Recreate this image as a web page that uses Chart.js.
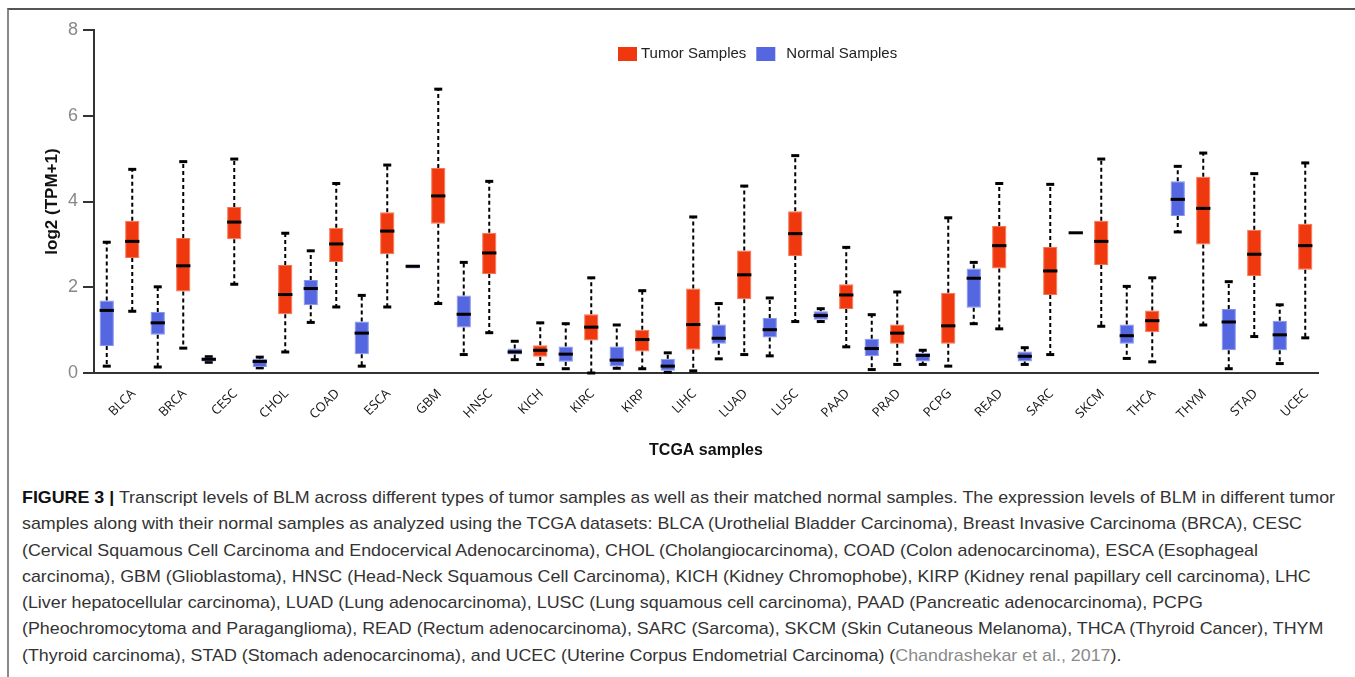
<!DOCTYPE html>
<html>
<head>
<meta charset="utf-8">
<script src="https://cdn.jsdelivr.net/npm/chart.js@4.4.0/dist/chart.umd.min.js"></script>
<style>
  body { margin: 0; background: #fff; width: 1355px; height: 677px; overflow: hidden; position: relative; }
  #frame { position: absolute; left: 7px; top: 8px; width: 1400px; height: 720px; border-top: 2px solid #555; border-left: 2px solid #888; }
  #wrap { position: absolute; left: 0; top: 0; width: 1355px; height: 470px; }
  #caption { position: absolute; left: 22px; top: 485px; font-family: "Liberation Sans Narrow", "Liberation Sans", Arial, sans-serif;
             font-size: 17px; line-height: 26.3px; color: #333; }
  #caption div { white-space: nowrap; transform-origin: 0 50%; }
  #caption b { color: #111; }
  #caption .ref { color: #8a8a8a; }
</style>
</head>
<body>
<div id="frame"></div>
<div id="wrap"><canvas id="chart"></canvas></div>
<div id="caption">
  <div><b>FIGURE 3 |</b> Transcript levels of BLM across different types of tumor samples as well as their matched normal samples. The expression levels of BLM in different tumor</div>
  <div>samples along with their normal samples as analyzed using the TCGA datasets: BLCA (Urothelial Bladder Carcinoma), Breast Invasive Carcinoma (BRCA), CESC</div>
  <div>(Cervical Squamous Cell Carcinoma and Endocervical Adenocarcinoma), CHOL (Cholangiocarcinoma), COAD (Colon adenocarcinoma), ESCA (Esophageal</div>
  <div>carcinoma), GBM (Glioblastoma), HNSC (Head-Neck Squamous Cell Carcinoma), KICH (Kidney Chromophobe), KIRP (Kidney renal papillary cell carcinoma), LHC</div>
  <div>(Liver hepatocellular carcinoma), LUAD (Lung adenocarcinoma), LUSC (Lung squamous cell carcinoma), PAAD (Pancreatic adenocarcinoma), PCPG</div>
  <div>(Pheochromocytoma and Paraganglioma), READ (Rectum adenocarcinoma), SARC (Sarcoma), SKCM (Skin Cutaneous Melanoma), THCA (Thyroid Cancer), THYM</div>
  <div>(Thyroid carcinoma), STAD (Stomach adenocarcinoma), and UCEC (Uterine Corpus Endometrial Carcinoma) (<span class="ref">Chandrashekar et al., 2017</span>).</div>
</div>
<script>
// categories and box statistics
const categories = ['BLCA','BRCA','CESC','CHOL','COAD','ESCA','GBM','HNSC','KICH','KIRC','KIRP','LIHC',
                    'LUAD','LUSC','PAAD','PRAD','PCPG','READ','SARC','SKCM','THCA','THYM','STAD','UCEC'];

const normalMin    = [0.16,0.14,0.25,0.12,1.18,0.16,2.44,0.43,0.31,0.10,0.11,0.02,0.33,0.40,1.20,0.08,0.20,1.15,0.20,3.27,0.34,3.29,0.10,0.22];
const normalQ1     = [0.63,0.89,0.27,0.14,1.58,0.44,2.44,1.06,0.43,0.26,0.15,0.05,0.68,0.83,1.24,0.39,0.27,1.52,0.27,3.27,0.68,3.66,0.53,0.53];
const normalMedian = [1.46,1.17,0.32,0.27,1.97,0.93,2.49,1.37,0.49,0.44,0.30,0.16,0.81,1.01,1.34,0.57,0.41,2.21,0.39,3.27,0.87,4.05,1.19,0.89];
const normalQ3     = [1.69,1.42,0.36,0.33,2.17,1.20,2.52,1.81,0.57,0.62,0.62,0.33,1.13,1.28,1.44,0.80,0.47,2.44,0.50,3.27,1.13,4.47,1.49,1.22];
const normalMax    = [3.05,2.01,0.38,0.37,2.85,1.81,2.52,2.58,0.74,1.15,1.12,0.47,1.62,1.75,1.50,1.36,0.53,2.58,0.59,3.27,2.02,4.82,2.13,1.59];

const tumorMin     = [1.44,0.58,2.07,0.49,1.54,1.54,1.62,0.94,0.20,0.00,0.10,0.05,0.43,1.20,0.61,0.20,0.16,1.03,0.43,1.09,0.26,1.12,0.85,0.82];
const tumorQ1      = [2.68,1.90,3.12,1.37,2.59,2.77,3.48,2.31,0.38,0.76,0.50,0.54,1.72,2.73,1.49,0.68,0.68,2.44,1.82,2.52,0.95,3.00,2.26,2.41];
const tumorMedian  = [3.07,2.50,3.52,1.83,3.01,3.31,4.13,2.80,0.53,1.07,0.78,1.13,2.29,3.25,1.82,0.93,1.10,2.97,2.38,3.07,1.22,3.84,2.77,2.97];
const tumorQ3      = [3.55,3.15,3.87,2.52,3.39,3.75,4.78,3.27,0.65,1.37,1.01,1.97,2.86,3.77,2.07,1.13,1.87,3.43,2.94,3.55,1.46,4.58,3.34,3.48];
const tumorMax     = [4.75,4.93,4.99,3.26,4.42,4.85,6.62,4.47,1.17,2.22,1.92,3.64,4.36,5.07,2.93,1.89,3.62,4.42,4.40,4.99,2.22,5.13,4.65,4.90];

const yTicks = [0, 2, 4, 6, 8];

const RED = '#f0380f';
const BLUE = '#5467e0';

// whiskers go under the boxes, medians on top
const boxWhiskers = {
  id: 'boxWhiskers',
  beforeDatasetsDraw(chart) {
    const ctx = chart.ctx, y = chart.scales.y;
    chart.data.datasets.forEach((ds, di) => {
      chart.getDatasetMeta(di).data.forEach((el, i) => {
        const lo = ds.stats.min[i], hi = ds.stats.max[i];
        const q1 = ds.data[i][0], q3 = ds.data[i][1];
        ctx.save();
        ctx.strokeStyle = '#000';
        ctx.lineWidth = 2;
        if (hi > q3) {
          ctx.setLineDash([4, 3]);
          ctx.beginPath(); ctx.moveTo(el.x, y.getPixelForValue(q3)); ctx.lineTo(el.x, y.getPixelForValue(hi)); ctx.stroke();
          ctx.setLineDash([]); ctx.lineWidth = 3;
          ctx.beginPath(); ctx.moveTo(el.x - 4, y.getPixelForValue(hi)); ctx.lineTo(el.x + 4, y.getPixelForValue(hi)); ctx.stroke();
        }
        ctx.lineWidth = 2;
        if (lo < q1) {
          ctx.setLineDash([4, 3]);
          ctx.beginPath(); ctx.moveTo(el.x, y.getPixelForValue(q1)); ctx.lineTo(el.x, y.getPixelForValue(lo)); ctx.stroke();
          ctx.setLineDash([]); ctx.lineWidth = 3;
          ctx.beginPath(); ctx.moveTo(el.x - 4, y.getPixelForValue(lo)); ctx.lineTo(el.x + 4, y.getPixelForValue(lo)); ctx.stroke();
        }
        ctx.restore();
      });
    });
  },
  afterDatasetsDraw(chart) {
    const ctx = chart.ctx, y = chart.scales.y;
    chart.data.datasets.forEach((ds, di) => {
      chart.getDatasetMeta(di).data.forEach((el, i) => {
        const py = y.getPixelForValue(ds.stats.median[i]);
        ctx.save();
        ctx.strokeStyle = '#000';
        ctx.lineWidth = 3;
        ctx.beginPath(); ctx.moveTo(el.x - el.width / 2, py); ctx.lineTo(el.x + el.width / 2, py); ctx.stroke();
        ctx.restore();
      });
    });
  }
};

// legend sits right of centre in the original, so draw it by hand
const sideLegend = {
  id: 'sideLegend',
  afterDraw(chart) {
    const ctx = chart.ctx;
    const items = chart.data.datasets.slice().reverse();
    let x = 618;
    const yc = 54;
    ctx.save();
    ctx.font = '15px "Liberation Sans", Arial, sans-serif';
    ctx.textBaseline = 'middle';
    items.forEach((ds, k) => {
      ctx.fillStyle = ds.backgroundColor;
      ctx.fillRect(x, yc - 7, 19, 14);
      const tx = x + 19 + (k === 0 ? 4 : 11);
      ctx.fillStyle = '#222';
      ctx.fillText(ds.label, tx, yc);
      x = tx + ctx.measureText(ds.label).width + 10;
    });
    ctx.restore();
  }
};

new Chart(document.getElementById('chart'), {
  type: 'bar',
  data: {
    labels: categories,
    datasets: [
      {
        label: 'Normal Samples',
        data: categories.map((c, i) => [normalQ1[i], normalQ3[i]]),
        stats: { min: normalMin, median: normalMedian, max: normalMax },
        backgroundColor: BLUE, borderColor: '#8593f0', borderWidth: 1, borderSkipped: false
      },
      {
        label: 'Tumor Samples',
        data: categories.map((c, i) => [tumorQ1[i], tumorQ3[i]]),
        stats: { min: tumorMin, median: tumorMedian, max: tumorMax },
        backgroundColor: RED, borderColor: '#f67450', borderWidth: 1, borderSkipped: false
      }
    ]
  },
  options: {
    responsive: true,
    maintainAspectRatio: false,
    animation: false,
    categoryPercentage: 1.0,
    barPercentage: 0.56,
    layout: { padding: { top: 30, right: 37, left: 0, bottom: 0 } },
    plugins: { legend: { display: false }, tooltip: { enabled: false } },
    scales: {
      x: {
        grid: { display: false },
        border: { display: true, color: '#333', width: 2 },
        ticks: { autoSkip: false, minRotation: 45, maxRotation: 45, padding: 5, labelOffset: 14,
                 color: '#111', font: { family: '"Open Sans", "Liberation Sans", sans-serif', size: 13 } },
        title: { display: true, text: 'TCGA samples', color: '#111', padding: { top: 4, bottom: 10 },
                 font: { family: '"Liberation Sans", Arial, sans-serif', size: 16, weight: 'bold' } },
        afterFit(s) { s.height = 97; }
      },
      y: {
        min: 0, max: 8,
        afterBuildTicks(s) { s.ticks = yTicks.map(v => ({ value: v })); },
        grid: { display: true, drawOnChartArea: false, drawTicks: true, tickLength: 11, color: '#333', lineWidth: 2 },
        border: { display: true, color: '#333', width: 2 },
        ticks: { padding: 5, color: '#888', font: { family: '"Liberation Sans", Arial, sans-serif', size: 18 } },
        title: { display: true, text: 'log2 (TPM+1)', color: '#111', padding: { top: 42, bottom: 0 },
                 font: { family: '"Liberation Sans", Arial, sans-serif', size: 17, weight: 'bold' } },
        afterFit(s) { s.width = 94; }
      }
    }
  },
  plugins: [boxWhiskers, sideLegend]
});

// squeeze caption lines to the width of the printed caption
const lines = document.querySelectorAll('#caption div');
const k = 1313 / lines[0].scrollWidth;
lines.forEach(l => { l.style.transform = 'scaleX(' + k + ')'; });
</script>
</body>
</html>
